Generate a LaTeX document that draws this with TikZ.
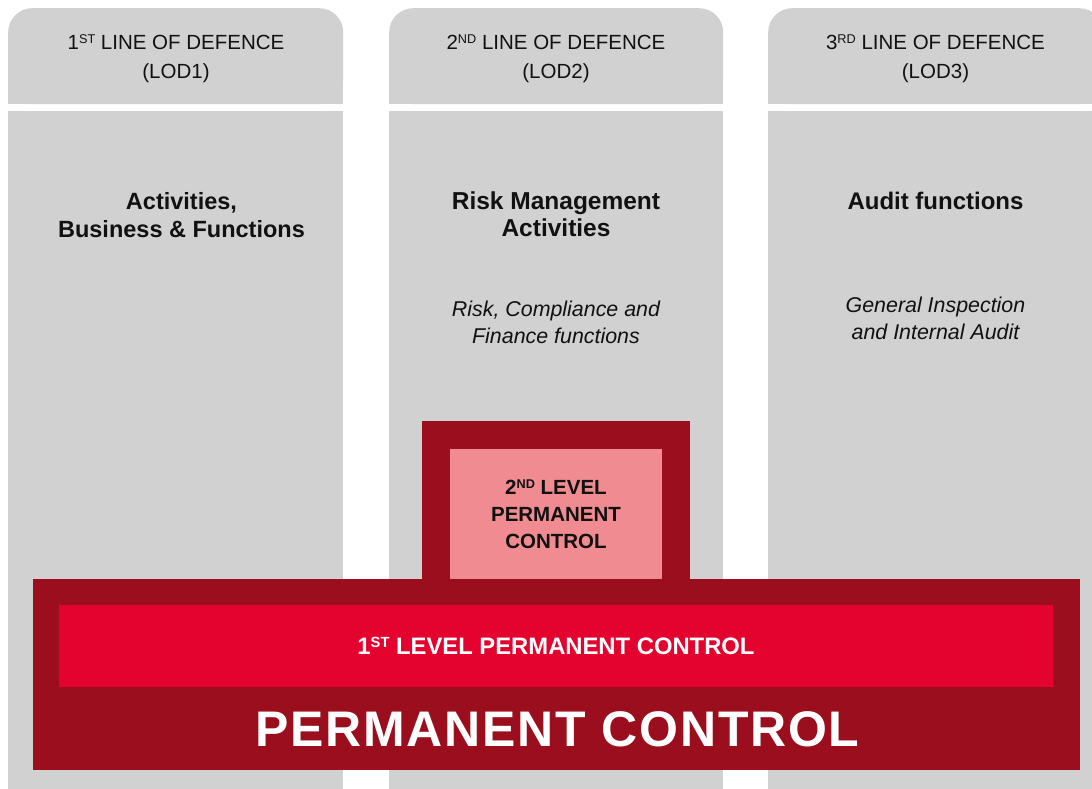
\documentclass[tikz,border=0pt]{standalone}
\usepackage{fontspec}
\setmainfont{Liberation Sans}
\definecolor{colgray}{HTML}{D1D1D1}
\definecolor{pcdark}{HTML}{9A0E1D}
\definecolor{pcred}{HTML}{E4032E}
\definecolor{pcpink}{HTML}{EF8B91}
\definecolor{txt}{HTML}{111111}
\newcommand\mysup[1]{\raisebox{0.27em}{\scalebox{0.62}{#1}}}
\tikzset{
  colhead/.style={fill=colgray, rounded corners=24pt, anchor=north west, inner sep=0pt,
    minimum width=335pt, minimum height=96pt},
  headtext/.style={align=center, text=txt, inner sep=0pt, font=\fontsize{20.5}{29}\selectfont},
  colbody/.style={fill=colgray, anchor=north west, inner sep=0pt,
    minimum width=335pt, minimum height=678pt},
  title/.style={align=center, text=txt, inner sep=0pt, font=\bfseries\fontsize{24.5}{27.5}\selectfont},
  subtitle/.style={align=center, text=txt, inner sep=0pt, font=\itshape\fontsize{21.4}{27}\selectfont},
  darkbox/.style={fill=pcdark, anchor=north west, inner sep=0pt},
}
\begin{document}
\begin{tikzpicture}[x=1pt,y=-1pt]
\useasboundingbox (0,0) rectangle (1092,789);
\fill[white] (0,0) rectangle (1092,789);
% headers (square lower part behind rounded node)
\fill[colgray] (8,50) rectangle (343,104);
\fill[colgray] (389,50) rectangle (723,104);
\fill[colgray] (768,50) rectangle (1103,104);
\node[colhead] (h1) at (8,8) {};
\node[colhead, minimum width=334pt] (h2) at (389,8) {};
\node[colhead] (h3) at (768,8) {};
\node[headtext] (h1t) at (176,58.5) {1\mysup{ST} LINE OF DEFENCE\\(LOD1)};
\node[headtext] (h2t) at (556,58.5) {2\mysup{ND} LINE OF DEFENCE\\(LOD2)};
\node[headtext] (h3t) at (935.5,58.5) {3\mysup{RD} LINE OF DEFENCE\\(LOD3)};
% bodies
\node[colbody] (b1) at (8,111) {};
\node[colbody, minimum width=334pt] (b2) at (389,111) {};
\node[colbody] (b3) at (768,111) {};
% titles
\node[title, font=\bfseries\fontsize{23.5}{27.5}\selectfont] (t1) at (181.5,215) {Activities,\\Business \& Functions};
\node[title] (t2) at (556,214) {Risk Management\\Activities};
\node[title, font=\bfseries\fontsize{24}{27.5}\selectfont] (t3) at (935.5,201) {Audit functions};
\node[subtitle] (s2) at (556,322) {Risk, Compliance and\\Finance functions};
\node[subtitle] (s3) at (935.5,318) {General Inspection\\and Internal Audit};
% second level tower
\node[darkbox, minimum width=268pt, minimum height=158pt] (tower) at (422,421) {};
\node[fill=pcpink, anchor=north west, inner sep=0pt, minimum width=212pt, minimum height=130pt] (l2box) at (450,449) {};
\node[align=center, text=txt, inner sep=0pt, font=\bfseries\fontsize{20.5}{27}\selectfont] (l2) at (556,514) {2\mysup{ND} LEVEL\\PERMANENT\\CONTROL};
% permanent control
\node[darkbox, minimum width=1047pt, minimum height=191pt] (pc) at (33,579) {};
\node[fill=pcred, anchor=north west, inner sep=0pt, minimum width=994pt, minimum height=82pt] (l1box) at (59,605) {};
\node[text=white, inner sep=0pt, font=\bfseries\fontsize{23.8}{28}\selectfont] (l1) at (556,646) {1\mysup{ST} LEVEL PERMANENT CONTROL};
\node[text=white, inner sep=0pt, font=\bfseries\fontsize{50}{60}\selectfont\addfontfeature{LetterSpace=3.5}] (pct) at (557.5,729) {PERMANENT CONTROL};
\end{tikzpicture}
\end{document}
